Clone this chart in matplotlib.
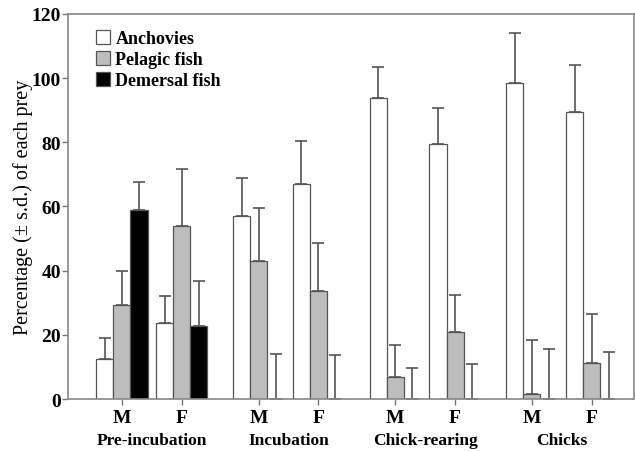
import numpy as np
import matplotlib
matplotlib.use("Agg")
import matplotlib.pyplot as plt
import matplotlib.transforms as mtransforms

stages = ["Pre-incubation", "Incubation", "Chick-rearing", "Chicks"]
sexes = ["M", "F"]

# order: Pre-inc M, Pre-inc F, Inc M, Inc F, Chick-rearing M, F, Chicks M, F
anchovies = [12.5, 23.6, 57.1, 67.0, 93.7, 79.6, 98.6, 89.3]
anchovies_sd = [6.4, 8.6, 11.9, 13.5, 9.8, 11.1, 15.4, 14.7]
pelagic = [29.3, 53.8, 42.9, 33.6, 7.0, 21.0, 1.6, 11.2]
pelagic_sd = [10.7, 17.9, 16.6, 15.0, 9.8, 11.4, 16.8, 15.4]
demersal = [58.9, 22.7, 0, 0, 0, 0, 0, 0]
demersal_sd = [8.8, 14.0, 14.0, 13.7, 9.7, 10.9, 15.5, 14.7]

plt.rcParams['font.family'] = ['Liberation Serif', 'DejaVu Serif']

fig = plt.figure(figsize=(6.35, 4.52), dpi=100)
ax = fig.add_axes([0.107, 0.115, 0.891, 0.852])

centers = []
for s in range(len(stages)):
    for k in range(len(sexes)):
        centers.append(s * 8 + k * 3.5)
centers = np.array(centers)

w = 1.0
edge = "#555555"
ekw = dict(ecolor="#555555", elinewidth=1.2, capthick=1.2)

def draw(xs, vals, sds, color, label):
    ax.bar(xs, vals, width=w, color=color, edgecolor=edge, linewidth=0.9, label=label)
    ax.errorbar(xs, vals, yerr=[np.zeros(len(sds)), sds], fmt="none", capsize=4, **ekw)

draw(centers - w, anchovies, anchovies_sd, "white", "Anchovies")
draw(centers, pelagic, pelagic_sd, "#bdbdbd", "Pelagic fish")
draw(centers + w, demersal, demersal_sd, "black", "Demersal fish")

ax.set_ylim(0, 120)
ax.set_xlim(-3.16, 29.96)
ax.set_yticks(range(0, 121, 20))
ax.set_xticks(centers)
ax.set_xticklabels(sexes * len(stages))
for lab in ax.get_xticklabels() + ax.get_yticklabels():
    lab.set_fontweight("bold")
    lab.set_fontsize(14)
ax.tick_params(axis="both", direction="out", length=4, color="#777777", width=1)
ax.tick_params(axis="x", pad=3)
ax.tick_params(axis="y", pad=1)

for sp in ax.spines.values():
    sp.set_color("#888888")
    sp.set_linewidth(1.2)

trans = mtransforms.blended_transform_factory(ax.transData, ax.transAxes)
for s, name in enumerate(stages):
    ax.text(s * 8 + 1.75, -0.107, name, transform=trans, ha="center", va="center",
            fontsize=12.5, fontweight="bold")

ax.set_ylabel("Percentage (\u00b1 s.d.) of each prey", fontsize=14.5)
ax.yaxis.set_label_coords(-0.062, 0.5)

leg = ax.legend(loc="upper left", bbox_to_anchor=(0.02, 1.0), frameon=False,
                handlelength=0.8, handleheight=0.8, handletextpad=0.3,
                labelspacing=0.2, prop={"weight": "bold", "size": 13})

fig.savefig("out.png", dpi=100)
